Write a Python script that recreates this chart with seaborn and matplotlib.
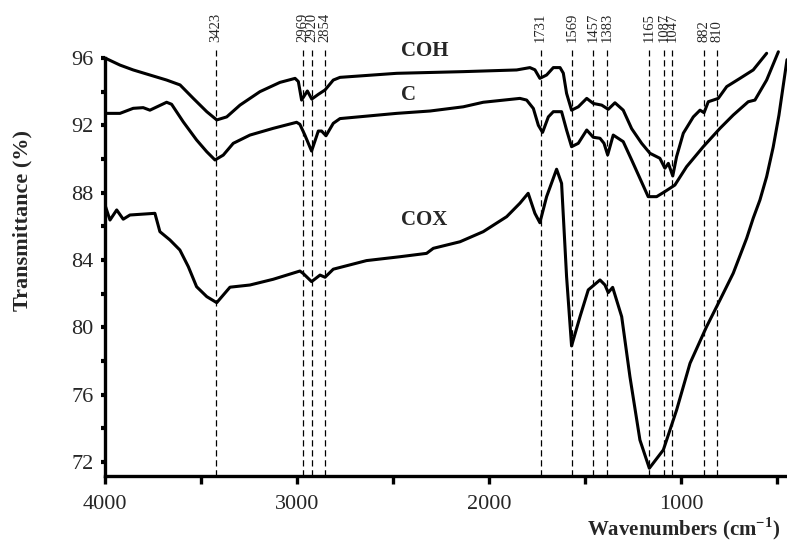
import pandas as pd
import matplotlib
matplotlib.use("Agg")
import matplotlib.pyplot as plt
import matplotlib.transforms as mtransforms
import seaborn as sns

# FTIR spectra
coh_wn = [4000, 3922, 3853, 3766, 3679, 3609, 3540, 3470, 3418, 3366, 3297, 3193, 3089, 3010,
          2993, 2976, 2946, 2923, 2889, 2854, 2811, 2776, 2481, 2134, 1856, 1787, 1761, 1735,
          1700, 1665, 1630, 1613, 1596, 1570, 1535, 1491, 1457, 1413, 1379, 1344, 1301, 1257,
          1205, 1162, 1110, 1084, 1066, 1043, 1023, 988, 936, 901, 880, 858, 806, 762, 693,
          624, 554]
coh_t = [96.0, 95.58, 95.29, 94.99, 94.69, 94.40, 93.6, 92.81, 92.32, 92.5, 93.2, 94.0, 94.55, 94.79,
         94.6, 93.5, 94.04, 93.56, 93.84, 94.1, 94.69, 94.85, 95.09, 95.19, 95.29, 95.43, 95.3, 94.79,
         94.99, 95.43, 95.43, 95.1, 93.9, 92.9, 93.1, 93.6, 93.3, 93.2, 92.95, 93.34, 92.9, 91.8,
         90.93, 90.34, 90.04, 89.45, 89.74, 88.99, 90.14, 91.53, 92.5, 92.9, 92.75, 93.4, 93.6, 94.3, 94.79,
         95.29, 96.28]

c_wn = [4000, 3922, 3853, 3801, 3766, 3679, 3653, 3592, 3523, 3470, 3427, 3384, 3332, 3245, 3124,
        3002, 2985, 2959, 2924, 2889, 2872, 2849, 2811, 2776, 2481, 2307, 2134, 2030, 1839, 1804,
        1769, 1743, 1721, 1691, 1665, 1622, 1596, 1570, 1535, 1491, 1457, 1422, 1401, 1382, 1353,
        1301, 1257, 1214, 1171, 1127, 1084, 1032, 971, 884, 797, 728, 650, 615, 554, 493]
c_t = [92.71, 92.71, 93.01, 93.05, 92.9, 93.37, 93.25, 92.2, 91.13, 90.43, 89.94, 90.23, 90.93, 91.42, 91.82,
       92.18, 92.06, 91.42, 90.47, 91.66, 91.66, 91.38, 92.12, 92.4, 92.71, 92.85, 93.1, 93.37, 93.6, 93.5,
       93.0, 92.0, 91.58, 92.5, 92.81, 92.81, 91.72, 90.73, 90.93, 91.72, 91.29, 91.23, 90.93, 90.24, 91.42,
       91.03, 89.94, 88.85, 87.76, 87.76, 88.06, 88.45, 89.54, 90.73, 91.82, 92.61, 93.4, 93.5, 94.69, 96.37]

cox_wn = [4000, 3974, 3939, 3905, 3870, 3740, 3714, 3662, 3610, 3566, 3523, 3470, 3418, 3349, 3245,
          3124, 2985, 2968, 2924, 2880, 2854, 2811, 2638, 2464, 2325, 2290, 2151, 2030, 1908, 1839,
          1796, 1761, 1735, 1700, 1648, 1622, 1596, 1570, 1526, 1483, 1422, 1396, 1379, 1356, 1309,
          1266, 1214, 1165, 1092, 1023, 953, 867, 797, 728, 658, 624, 589, 554, 520, 490, 448]
cox_t = [87.27, 86.37, 86.97, 86.42, 86.67, 86.77, 85.68, 85.19, 84.59, 83.6, 82.41, 81.82, 81.46, 82.38, 82.51,
         82.85, 83.34, 83.2, 82.71, 83.1, 82.97, 83.45, 83.96, 84.19, 84.39, 84.69, 85.08, 85.68, 86.57, 87.37,
         87.96, 86.77, 86.21, 87.76, 89.39, 88.55, 83.01, 78.89, 80.63, 82.22, 82.81, 82.51, 82.06, 82.37, 80.63,
         77.06, 73.30, 71.62, 72.71, 75.08, 77.86, 80.03, 81.62, 83.21, 85.29, 86.48, 87.56, 88.95, 90.7, 92.6, 95.9]

peaks = [3423, 2969, 2920, 2854, 1731, 1569, 1457, 1383, 1165, 1087, 1047, 882, 810]

frames = []
for name, wn, t in [("COH", coh_wn, coh_t), ("C", c_wn, c_t), ("COX", cox_wn, cox_t)]:
    frames.append(pd.DataFrame({"wn": wn, "T": t, "sample": name}))
df = pd.concat(frames, ignore_index=True)

sns.set_theme(style="white")
plt.rcParams["font.family"] = ["Liberation Serif", "DejaVu Serif"]
plt.rcParams["mathtext.fontset"] = "custom"
plt.rcParams["mathtext.rm"] = "Liberation Serif"
plt.rcParams["mathtext.bf"] = "Liberation Serif:bold"

fig = plt.figure(figsize=(7.87, 5.42), dpi=100)
ax = fig.add_axes([0.1334, 0.1218, 0.8666, 0.7867])

for p in peaks:
    ax.axvline(p, color="black", lw=0.9, ls=(0, (5, 3)), zorder=1)

sns.lineplot(data=df, x="wn", y="T", units="sample", estimator=None,
             color="black", lw=2.2, ax=ax, zorder=3)

ax.set_xlim(4000, 448)
ax.set_ylim(71.16, 96.5)
ax.set_xticks([4000, 3000, 2000, 1000])
ax.set_xticklabels(["4000", "3000", "2000", "1000"])
ax.set_xticks([3500, 2500, 1500, 500], minor=True)
ax.set_yticks([72, 76, 80, 84, 88, 92, 96])
ax.set_yticks([74, 78, 82, 86, 90, 94], minor=True)

for s in ["top", "right"]:
    ax.spines[s].set_visible(False)
for s in ["left", "bottom"]:
    ax.spines[s].set_linewidth(2.4)
    ax.spines[s].set_color("black")
ax.spines["left"].set_bounds(71.16, 96)

ax.tick_params(axis="x", which="both", direction="out", length=6, width=2.4,
               labelsize=16, pad=8, bottom=True, color="black")
ax.tick_params(axis="y", which="both", direction="out", length=3, width=3,
               labelsize=16, pad=5, left=True, color="black")

ax.set_xlabel("Wavenumbers (cm$^{\\mathbf{-1}}$)", fontsize=15, fontweight="bold")
ax.xaxis.set_label_coords(0.99, -0.093)
ax.xaxis.label.set_horizontalalignment("right")
ax.set_ylabel("Transmittance (%)", fontsize=16, fontweight="bold")
ax.yaxis.set_label_coords(-0.106, 0.60)

trans = mtransforms.blended_transform_factory(ax.transData, ax.transAxes)
for p in peaks:
    ax.text(p, 1.018, str(p), rotation=90, ha="center", va="bottom",
            fontsize=10.5, transform=trans)

ax.text(2458, 96.42, "COH", fontsize=15, fontweight="bold", va="center", ha="left")
ax.text(2458, 93.8, "C", fontsize=15, fontweight="bold", va="center", ha="left")
ax.text(2458, 86.37, "COX", fontsize=15, fontweight="bold", va="center", ha="left")

fig.savefig("out.png", dpi=100)
